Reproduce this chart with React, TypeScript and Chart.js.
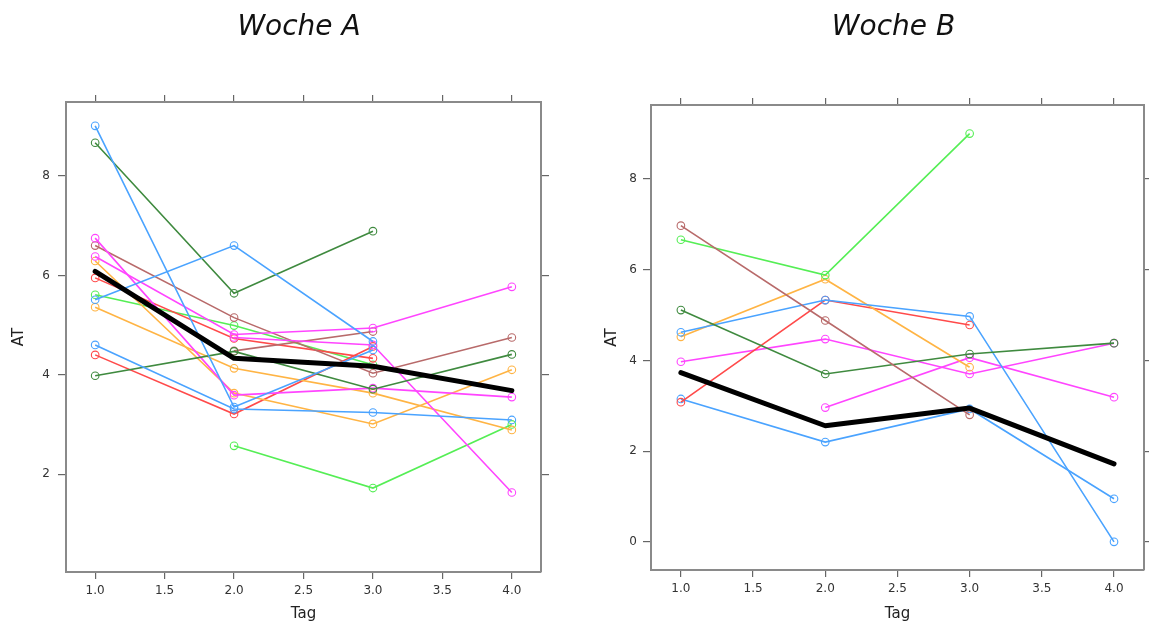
import React, { useEffect, useRef } from "react";
import { Chart, registerables } from "chart.js";

Chart.register(...registerables);

// ---------- data ----------
const tage = [1, 2, 3, 4];
const xTickValues = [1, 1.5, 2, 2.5, 3, 3.5, 4];
const yTickValuesA = [2, 4, 6, 8];
const yTickValuesB = [0, 2, 4, 6, 8];

const titleA = "Woche A";
const titleB = "Woche B";
const xLabel = "Tag";
const yLabel = "AT";

// Woche A
const a_blau1 = [5.51, 6.6, 4.67, null];
const a_blau2 = [9.01, 3.35, 4.5, null];
const a_blau3 = [4.6, 3.31, 3.24, 3.09];
const a_dgruen1 = [8.67, 5.64, 6.89, null];
const a_dgruen2 = [3.98, 4.47, 3.71, 4.41];
const a_magenta1 = [6.75, 3.59, 3.73, 3.55];
const a_magenta2 = [6.38, 4.81, 4.94, 5.77];
const a_magenta3 = [null, 4.75, 4.6, 1.63];
const a_braun1 = [6.6, 5.15, 4.03, 4.75];
const a_braun2 = [null, 4.48, 4.87, null];
const a_orange1 = [6.29, 3.63, 3.01, 4.1];
const a_orange2 = [5.36, 4.13, 3.63, 2.89];
const a_rot1 = [5.95, 4.73, 4.33, null];
const a_rot2 = [4.4, 3.21, 4.57, null];
const a_gruen1 = [5.61, 4.99, 4.2, null];
const a_gruen2 = [null, 2.57, 1.72, 3.0];
const a_mittel = [6.08, 4.33, 4.17, 3.68];

// Woche B
const b_braun = [6.97, 4.88, 2.8, null];
const b_gruen = [6.66, 5.88, 9.0, null];
const b_dgruen = [5.11, 3.7, 4.14, 4.38];
const b_blau1 = [4.62, 5.33, 4.97, 0.0];
const b_orange = [4.52, 5.79, 3.85, null];
const b_rot = [3.08, 5.33, 4.78, null];
const b_magenta1 = [3.97, 4.47, 3.7, 4.38];
const b_magenta2 = [null, 2.96, 4.06, 3.19];
const b_blau2 = [3.15, 2.2, 2.93, 0.95];
const b_mittel = [3.73, 2.56, 2.95, 1.72];

// ---------- styles ----------
const C_BLUE = "#4aa3ff";
const C_DGREEN = "#3f8a3f";
const C_MAGENTA = "#ff45ff";
const C_BROWN = "#b86a6a";
const C_ORANGE = "#ffb444";
const C_RED = "#ff4a4a";
const C_GREEN = "#55ee55";

const seriesA: [(number | null)[], string][] = [
  [a_blau1, C_BLUE],
  [a_blau2, C_BLUE],
  [a_blau3, C_BLUE],
  [a_dgruen1, C_DGREEN],
  [a_dgruen2, C_DGREEN],
  [a_magenta1, C_MAGENTA],
  [a_magenta2, C_MAGENTA],
  [a_magenta3, C_MAGENTA],
  [a_braun1, C_BROWN],
  [a_braun2, C_BROWN],
  [a_orange1, C_ORANGE],
  [a_orange2, C_ORANGE],
  [a_rot1, C_RED],
  [a_rot2, C_RED],
  [a_gruen1, C_GREEN],
  [a_gruen2, C_GREEN],
];

const seriesB: [(number | null)[], string][] = [
  [b_braun, C_BROWN],
  [b_gruen, C_GREEN],
  [b_dgruen, C_DGREEN],
  [b_blau1, C_BLUE],
  [b_orange, C_ORANGE],
  [b_rot, C_RED],
  [b_magenta1, C_MAGENTA],
  [b_magenta2, C_MAGENTA],
  [b_blau2, C_BLUE],
];

const FONT = '"DejaVu Sans", "Liberation Sans", Arial, sans-serif';
const FRAME = "#8a8a8a";
const TICKC = "#666";
const TEXTC = "#333";

type Geo = {
  leftW: number;
  rightW: number;
  topH: number;
  bottomH: number;
  xMin: number;
  xMax: number;
  yMin: number;
  yMax: number;
  yTicks: number[];
  yTitlePad: number;
  yLabelPad: number;
};

function toPoints(vals: (number | null)[]) {
  return tage.map((t, i) => ({ x: t, y: vals[i] }));
}

function makeConfig(series: [(number | null)[], string][], mean: number[], g: Geo): any {
  const datasets: any[] = [
    {
      data: toPoints(mean),
      borderColor: "#000",
      borderWidth: 5,
      pointRadius: 0,
      borderCapStyle: "round",
      borderJoinStyle: "round",
      fill: false,
    },
    ...series.map(([vals, color]) => ({
      data: toPoints(vals),
      borderColor: color,
      borderWidth: 1.6,
      pointRadius: 3.8,
      pointBorderWidth: 1.1,
      pointBorderColor: color,
      pointBackgroundColor: "rgba(0,0,0,0)",
      fill: false,
    })),
  ];

  const grid = {
    drawOnChartArea: false,
    drawTicks: true,
    tickLength: 7,
    color: TICKC,
    tickColor: TICKC,
    lineWidth: 1.2,
    tickWidth: 1.2,
  };
  const border = { display: true, color: FRAME, width: 2 };

  const xTicksFn = (s: any) => {
    s.ticks = xTickValues.map((v) => ({ value: v }));
  };
  const yTicksFn = (s: any) => {
    s.ticks = g.yTicks.map((v) => ({ value: v }));
  };

  return {
    type: "line",
    data: { datasets },
    options: {
      animation: false,
      responsive: false,
      events: [],
      layout: { padding: 0 },
      elements: { line: { tension: 0 } },
      plugins: {
        legend: { display: false },
        tooltip: { enabled: false },
        title: { display: false },
      },
      scales: {
        x: {
          type: "linear",
          position: "bottom",
          min: g.xMin,
          max: g.xMax,
          afterBuildTicks: xTicksFn,
          afterFit: (s: any) => {
            s.height = g.bottomH;
          },
          ticks: {
            callback: (v: any) => Number(v).toFixed(1),
            font: { family: FONT, size: 12 },
            color: TEXTC,
            padding: 5,
            autoSkip: false,
            maxRotation: 0,
          },
          grid,
          border,
          title: {
            display: true,
            text: xLabel,
            font: { family: FONT, size: 15 },
            color: "#222",
            padding: { top: 0, bottom: 3 },
          },
        },
        x2: {
          type: "linear",
          position: "top",
          min: g.xMin,
          max: g.xMax,
          afterBuildTicks: xTicksFn,
          afterFit: (s: any) => {
            s.height = g.topH;
          },
          ticks: { display: false },
          grid,
          border,
        },
        y: {
          type: "linear",
          position: "left",
          min: g.yMin,
          max: g.yMax,
          afterBuildTicks: yTicksFn,
          afterFit: (s: any) => {
            s.width = g.leftW;
          },
          ticks: {
            callback: (v: any) => String(v),
            font: { family: FONT, size: 12 },
            color: TEXTC,
            padding: g.yLabelPad,
          },
          grid: { ...grid, tickLength: 8 },
          border,
          title: {
            display: true,
            text: yLabel,
            font: { family: FONT, size: 15 },
            color: "#222",
            padding: { top: g.yTitlePad, bottom: 0 },
          },
        },
        y2: {
          type: "linear",
          position: "right",
          min: g.yMin,
          max: g.yMax,
          afterBuildTicks: yTicksFn,
          afterFit: (s: any) => {
            s.width = g.rightW;
          },
          ticks: { display: false },
          grid: { ...grid, tickLength: 8 },
          border,
        },
      },
    },
  };
}

const geoA: Geo = {
  leftW: 66,
  rightW: 34,
  topH: 102,
  bottomH: 54,
  xMin: 0.79,
  xMax: 4.21,
  yMin: 0.03,
  yMax: 9.49,
  yTicks: yTickValuesA,
  yTitlePad: 10,
  yLabelPad: 8,
};

const geoB: Geo = {
  leftW: 61,
  rightW: 4,
  topH: 105,
  bottomH: 56,
  xMin: 0.793,
  xMax: 4.207,
  yMin: -0.62,
  yMax: 9.63,
  yTicks: yTickValuesB,
  yTitlePad: 13,
  yLabelPad: 6,
};

function Panel(props: { left: number; width: number; cfg: () => any }) {
  const ref = useRef<HTMLCanvasElement | null>(null);
  useEffect(() => {
    if (!ref.current) return;
    const chart = new Chart(ref.current, props.cfg());
    return () => chart.destroy();
  }, []);
  return (
    <canvas
      ref={ref}
      width={props.width}
      height={626}
      style={{ position: "absolute", left: props.left, top: 0, width: props.width, height: 626 }}
    />
  );
}

const titleStyle: React.CSSProperties = {
  position: "absolute",
  top: 12,
  width: 300,
  textAlign: "center",
  fontFamily: FONT,
  fontStyle: "italic",
  fontSize: 28,
  lineHeight: "28px",
  color: "#111",
  whiteSpace: "nowrap",
};

export default function App() {
  return (
    <div
      style={{
        position: "absolute",
        left: 0,
        top: 0,
        width: 1149,
        height: 626,
        background: "#fff",
        overflow: "hidden",
      }}
    >
      <Panel left={0} width={575} cfg={() => makeConfig(seriesA, a_mittel, geoA)} />
      <Panel left={590} width={559} cfg={() => makeConfig(seriesB, b_mittel, geoB)} />
      <div style={{ ...titleStyle, left: 149 }}>{titleA}</div>
      <div style={{ ...titleStyle, left: 743.5 }}>{titleB}</div>
    </div>
  );
}
